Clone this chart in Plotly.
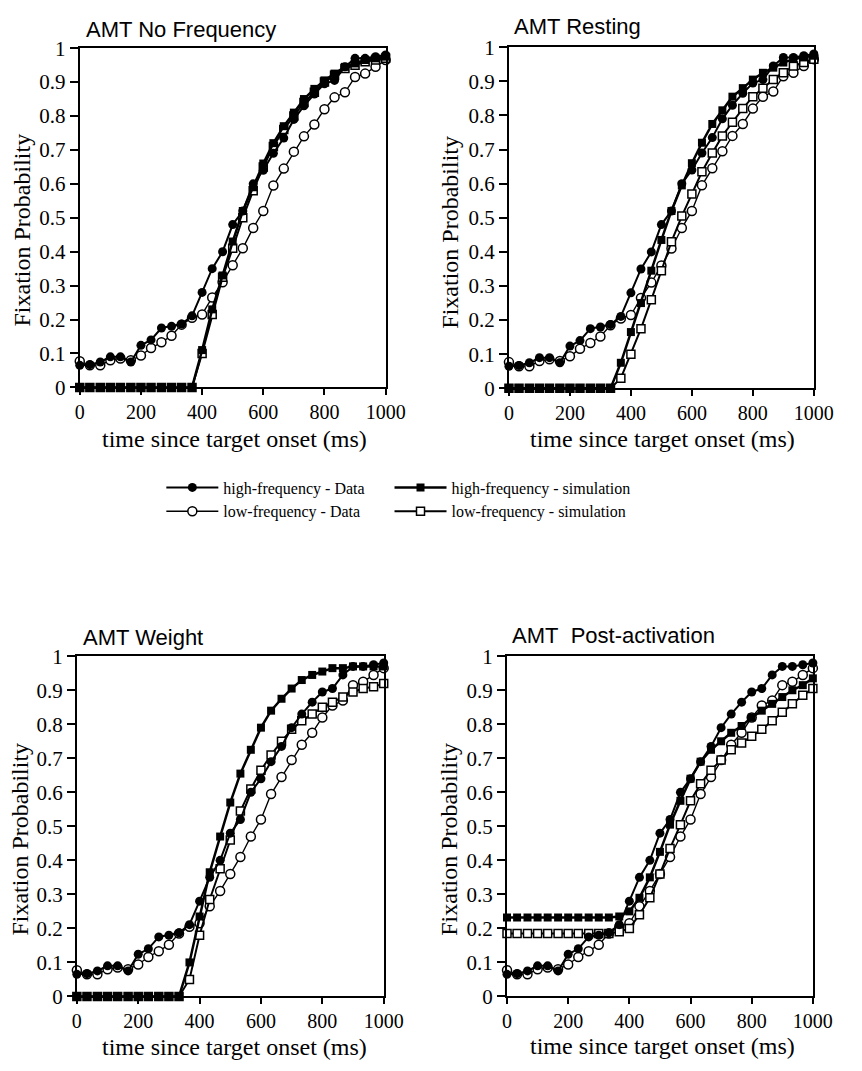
import plotly.graph_objects as go

# ---------------- data ----------------
time_ms = [0, 33, 67, 100, 133, 167, 200, 233, 267, 300, 333, 367, 400, 433, 467, 500,
           533, 567, 600, 633, 667, 700, 733, 767, 800, 833, 867, 900, 933, 967, 1000]

hf_data = [0.065, 0.067, 0.075, 0.09, 0.09, 0.075, 0.124, 0.14, 0.175, 0.18, 0.187, 0.211,
           0.28, 0.35, 0.40, 0.48, 0.52, 0.60, 0.64, 0.69, 0.735, 0.79, 0.83, 0.865, 0.895,
           0.905, 0.945, 0.97, 0.97, 0.975, 0.98]
lf_data = [0.077, 0.065, 0.065, 0.08, 0.085, 0.08, 0.094, 0.116, 0.133, 0.152, 0.185, 0.205,
           0.215, 0.265, 0.31, 0.36, 0.41, 0.47, 0.52, 0.595, 0.645, 0.695, 0.74, 0.775, 0.82,
           0.855, 0.87, 0.915, 0.925, 0.945, 0.965]

# No Frequency
nofreq_hf_sim = [0, 0, 0, 0, 0, 0, 0, 0, 0, 0, 0, 0, 0.11, 0.23, 0.33, 0.43, 0.52, 0.59, 0.66,
                 0.72, 0.77, 0.81, 0.85, 0.88, 0.905, 0.925, 0.945, 0.955, 0.965, 0.97, 0.975]
nofreq_lf_sim = [0, 0, 0, 0, 0, 0, 0, 0, 0, 0, 0, 0, 0.10, 0.215, 0.325, 0.41, 0.50, 0.58, 0.65,
                 0.71, 0.76, 0.80, 0.84, 0.87, 0.90, 0.92, 0.94, 0.95, 0.96, 0.965, 0.97]
# Resting
resting_hf_sim = [0, 0, 0, 0, 0, 0, 0, 0, 0, 0, 0, 0.075, 0.165, 0.25, 0.345, 0.435, 0.52, 0.595,
                  0.66, 0.72, 0.775, 0.815, 0.855, 0.88, 0.905, 0.925, 0.94, 0.955, 0.965, 0.97, 0.975]
resting_lf_sim = [0, 0, 0, 0, 0, 0, 0, 0, 0, 0, 0, 0.03, 0.10, 0.175, 0.26, 0.345, 0.43, 0.505,
                  0.57, 0.635, 0.69, 0.74, 0.78, 0.82, 0.855, 0.88, 0.905, 0.925, 0.945, 0.955, 0.965]
# Weight
weight_hf_sim = [0, 0, 0, 0, 0, 0, 0, 0, 0, 0, 0, 0.10, 0.235, 0.365, 0.47, 0.57, 0.655, 0.725,
                 0.79, 0.84, 0.875, 0.905, 0.93, 0.945, 0.955, 0.965, 0.965, 0.97, 0.97, 0.97, 0.97]
weight_lf_sim = [0, 0, 0, 0, 0, 0, 0, 0, 0, 0, 0, 0.05, 0.18, 0.285, 0.375, 0.46, 0.545, 0.61,
                 0.665, 0.71, 0.75, 0.785, 0.81, 0.83, 0.85, 0.865, 0.88, 0.895, 0.905, 0.91, 0.92]
# Post-activation
postact_hf_sim = [0.232, 0.232, 0.232, 0.232, 0.232, 0.232, 0.232, 0.232, 0.232, 0.232, 0.232,
                  0.235, 0.25, 0.29, 0.35, 0.425, 0.505, 0.575, 0.64, 0.69, 0.725, 0.75, 0.775,
                  0.795, 0.82, 0.84, 0.86, 0.88, 0.90, 0.915, 0.935]
postact_lf_sim = [0.185, 0.185, 0.185, 0.185, 0.185, 0.185, 0.185, 0.185, 0.185, 0.185, 0.185,
                  0.19, 0.20, 0.24, 0.29, 0.36, 0.435, 0.505, 0.575, 0.625, 0.665, 0.695, 0.725,
                  0.745, 0.765, 0.785, 0.81, 0.835, 0.86, 0.885, 0.905]

panel_titles = ["AMT No Frequency", "AMT Resting", "AMT Weight", "AMT\u00a0 Post-activation"]
sim_hf = [nofreq_hf_sim, resting_hf_sim, weight_hf_sim, postact_hf_sim]
sim_lf = [nofreq_lf_sim, resting_lf_sim, weight_lf_sim, postact_lf_sim]

series_names = ["high-frequency - Data", "low-frequency - Data",
                "high-frequency - simulation", "low-frequency - simulation"]

x_tick_vals = [0, 200, 400, 600, 800, 1000]
y_tick_vals = [0, 0.1, 0.2, 0.3, 0.4, 0.5, 0.6, 0.7, 0.8, 0.9, 1.0]
y_tick_text = ["0", "0.1", "0.2", "0.3", "0.4", "0.5", "0.6", "0.7", "0.8", "0.9", "1"]
x_title = "time since target onset (ms)"
y_title = "Fixation Probability"

# ---------------- layout geometry (pixels) ----------------
W, H = 862, 1071
panel_px = [(77, 392, 37, 384), (519, 833, 36, 385), (74, 390, 659, 1007), (517, 832, 659, 1007)]
title_px = [(81, 18), (522, 15), (78, 640), (520, 638)]
ytitle_px = [(18, 223), (458, 225), (15, 846), (457, 846)]
xtitle_px = [(236, 437), (677, 437), (236, 1059), (677, 1058)]

SERIF = "Liberation Serif, Times New Roman, serif"
SANS = "Liberation Sans, Arial, sans-serif"

fig = go.Figure()
annotations = []
layout_axes = {}

for i in range(4):
    sfx = "" if i == 0 else str(i + 1)
    xa, ya = "x" + sfx, "y" + sfx
    show = (i == 0)
    common = dict(x=time_ms, xaxis=xa, yaxis=ya, mode="lines+markers", cliponaxis=False,
                  showlegend=show)
    # drawing order: low-frequency below, high-frequency on top
    fig.add_trace(go.Scatter(y=lf_data, name=series_names[1], legend="legend", legendrank=2,
                             line=dict(color="black", width=1.4),
                             marker=dict(symbol="circle", size=9, color="white",
                                         line=dict(color="black", width=1.5)), **common))
    fig.add_trace(go.Scatter(y=sim_lf[i], name=series_names[3], legend="legend2", legendrank=2,
                             line=dict(color="black", width=2),
                             marker=dict(symbol="square", size=8, color="white",
                                         line=dict(color="black", width=1.5)), **common))
    fig.add_trace(go.Scatter(y=hf_data, name=series_names[0], legend="legend", legendrank=1,
                             line=dict(color="black", width=2),
                             marker=dict(symbol="circle", size=9, color="black"), **common))
    fig.add_trace(go.Scatter(y=sim_hf[i], name=series_names[2], legend="legend2", legendrank=1,
                             line=dict(color="black", width=2.5),
                             marker=dict(symbol="square", size=8, color="black"), **common))

    x0, x1, y0, y1 = panel_px[i]
    layout_axes["xaxis" + sfx] = dict(
        domain=[x0 / W, x1 / W], range=[0, 1000], anchor=ya,
        tickvals=x_tick_vals, ticks="outside", ticklen=6, tickwidth=1.5, tickcolor="black",
        showline=True, linewidth=2, linecolor="black", mirror=True,
        showgrid=False, zeroline=False, fixedrange=True,
        tickfont=dict(family=SERIF, size=20, color="black"))
    layout_axes["yaxis" + sfx] = dict(
        domain=[1 - y1 / H, 1 - y0 / H], range=[0, 1], anchor=xa,
        tickvals=y_tick_vals, ticktext=y_tick_text, ticks="outside", ticklen=8,
        tickwidth=1.5, tickcolor="black",
        showline=True, linewidth=2, linecolor="black", mirror=True,
        showgrid=False, zeroline=False, fixedrange=True,
        tickfont=dict(family=SERIF, size=21, color="black"))

    tx, ty = title_px[i]
    annotations.append(dict(text=panel_titles[i], x=tx / W, y=1 - ty / H, xref="paper",
                            yref="paper", xanchor="left", yanchor="middle", showarrow=False,
                            font=dict(family=SANS, size=22, color="black")))
    yx, yy = ytitle_px[i]
    annotations.append(dict(text=y_title, x=yx / W, y=1 - yy / H, xref="paper", yref="paper",
                            xanchor="center", yanchor="middle", textangle=-90, showarrow=False,
                            font=dict(family=SERIF, size=24, color="black")))
    xx, xy = xtitle_px[i]
    annotations.append(dict(text=x_title, x=xx / W, y=1 - xy / H, xref="paper", yref="paper",
                            xanchor="center", yanchor="middle", showarrow=False,
                            font=dict(family=SERIF, size=24, color="black")))

legend_font = dict(family=SERIF, size=16, color="black")
fig.update_layout(
    width=W, height=H, margin=dict(l=0, r=0, t=0, b=0),
    paper_bgcolor="white", plot_bgcolor="white",
    annotations=annotations,
    legend=dict(x=161 / W, y=1 - 469 / H, xanchor="left", yanchor="top", font=legend_font,
                bgcolor="rgba(0,0,0,0)", tracegroupgap=0, itemwidth=52),
    legend2=dict(x=396 / W, y=1 - 469 / H, xanchor="left", yanchor="top", font=legend_font,
                 bgcolor="rgba(0,0,0,0)", tracegroupgap=0, itemwidth=52),
    **layout_axes,
)

fig.write_html("out.html")
